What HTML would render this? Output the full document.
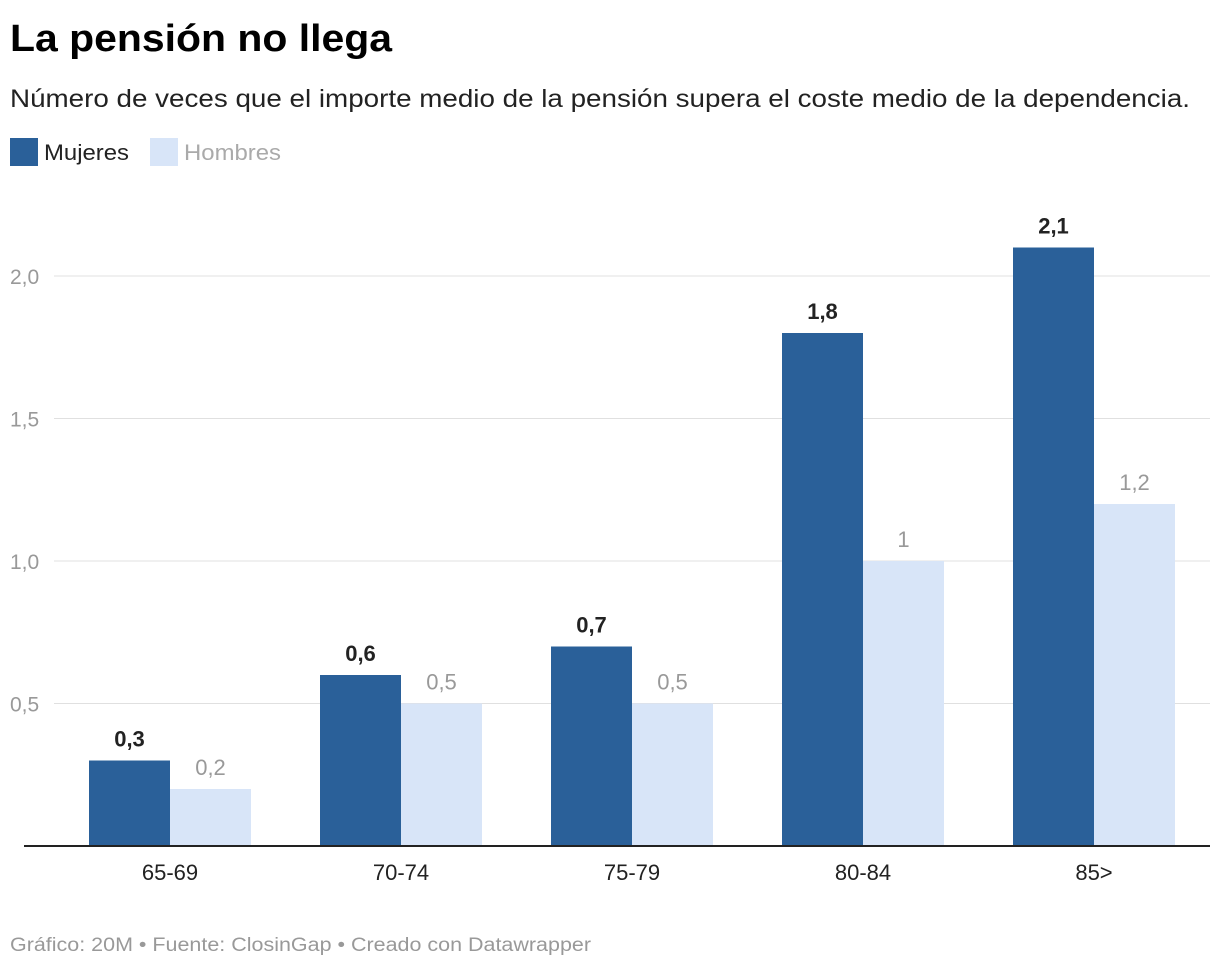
<!DOCTYPE html>
<html><head><meta charset="utf-8"><style>
body{margin:0;background:#fff;width:1220px;height:968px;overflow:hidden;font-family:"Liberation Sans",Roboto,sans-serif;}
</style></head><body>
<svg width="1220" height="968" xmlns="http://www.w3.org/2000/svg" font-family="Liberation Sans, sans-serif">
<text x="10" y="51" font-size="38" font-weight="bold" fill="#000" textLength="382" lengthAdjust="spacingAndGlyphs">La pensión no llega</text>
<text x="10" y="107" font-size="25" fill="#222" textLength="1180" lengthAdjust="spacingAndGlyphs">Número de veces que el importe medio de la pensión supera el coste medio de la dependencia.</text>
<g>
<rect x="10" y="138" width="28" height="28" fill="#2a6099"/>
<text x="44" y="160" font-size="22" fill="#222" textLength="85" lengthAdjust="spacingAndGlyphs">Mujeres</text>
<rect x="150" y="138" width="28" height="28" fill="#d8e5f8"/>
<text x="184" y="160" font-size="22" fill="#aaa" textLength="97" lengthAdjust="spacingAndGlyphs">Hombres</text>
</g>
<g id="plot"></g>
<text x="10" y="951" font-size="19" fill="#999" textLength="581" lengthAdjust="spacingAndGlyphs">Gráfico: 20M • Fuente: ClosinGap • Creado con Datawrapper</text>
</svg>
<script>
const categories=["65-69","70-74","75-79","80-84","85>"];
const mujeres=[0.3,0.6,0.7,1.8,2.1];
const hombres=[0.2,0.5,0.5,1,1.2];
const mujeresLabels=["0,3","0,6","0,7","1,8","2,1"];
const hombresLabels=["0,2","0,5","0,5","1","1,2"];
const ticks=[0.5,1.0,1.5,2.0];
const tickLabels=["0,5","1,0","1,5","2,0"];
const NS="http://www.w3.org/2000/svg";
const g=document.getElementById('plot');
const y0=846, pxPerUnit=285;
function yS(v){return y0-v*pxPerUnit;}
function xS(i){return 89+i*231;}
const bw=81;
function mk(t,a,txt){const e=document.createElementNS(NS,t);for(const k in a)e.setAttribute(k,a[k]);if(txt!=null)e.textContent=txt;g.appendChild(e);return e;}
ticks.forEach((t,i)=>{
 const l=mk('line',{x1:54,x2:1210,y1:yS(t),y2:yS(t),stroke:'#e0e0e0','stroke-width':1});
 
 
 const tx=mk('text',{x:10,y:yS(t)+8,'font-size':21,fill:'#999'},tickLabels[i]);
 
 
});
categories.forEach((c,i)=>{
 const x=xS(i);
 const r1=mk('rect',{x:x,y:yS(mujeres[i]),width:bw,height:mujeres[i]*pxPerUnit,fill:'#2a6099'});
 
 
 const r2=mk('rect',{x:x+bw,y:yS(hombres[i]),width:bw,height:hombres[i]*pxPerUnit,fill:'#d8e5f8'});
 
 
 const t1=mk('text',{x:x+bw/2,y:yS(mujeres[i])-14,'font-size':22,'font-weight':'bold',fill:'#222','text-anchor':'middle'},mujeresLabels[i]);
 
 
 const t2=mk('text',{x:x+bw*1.5,y:yS(hombres[i])-14,'font-size':22,fill:'#999','text-anchor':'middle'},hombresLabels[i]);
 
 
 const cl=mk('text',{x:x+bw,y:880,'font-size':22,fill:'#222','text-anchor':'middle'},c);
 
 
});
const ax=mk('line',{x1:24,x2:1210,y1:y0,y2:y0,stroke:'#222','stroke-width':2});


</script>
</body></html>
